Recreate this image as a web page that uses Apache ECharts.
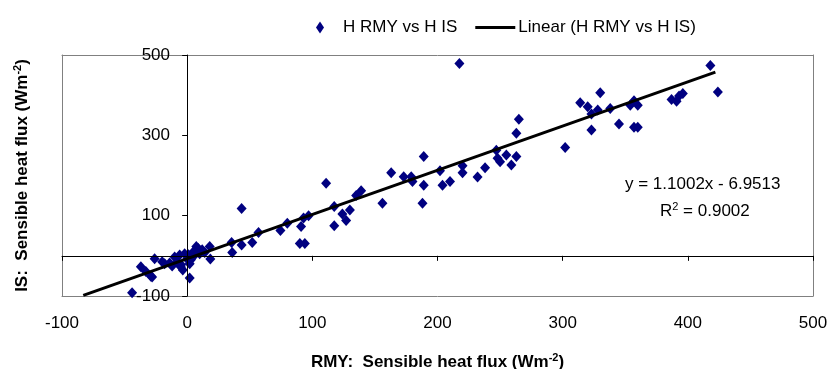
<!DOCTYPE html>
<html>
<head>
<meta charset="utf-8">
<script src="https://cdn.jsdelivr.net/npm/echarts@6/dist/echarts.min.js"></script>
<style>html,body{margin:0;padding:0;background:#fff}#c{width:830px;height:369px}</style>
</head>
<body>
<div id="c"></div>
<script>
// Data
const rmyX = [-44,-37,-33,-29,-28,-26,-20,-18,-14,-12,-10,-8,-7.5,-6,-5,-4.8,-3.5,-2,0,1,2,2,3,4.6,5,6,7.3,8.6,10,12,14,18,18.5,
  35.5,36,43.5,43.5,52,57,74.5,80,90,94,91,93,97,111,117.5,117.5,124,127,130,135,139,156,163,173,179,180,188,189,189,202,204,210,217.5,220,220,232,238,247,248,250,255,259,263,263,265,302,314,320,323,323,328,330,338,345,354,357,360,357,360,387,391,393,396,418,424];
const isY = [-92,-27,-39,-51,-53,-7,-15,-20,-18,-25,-3,-15,-18,2,-28,-22,-35,5,-8,3,-55,-20,-10,7,10,2,23,19,5,15,8,23,-8,
  33,8,27,118,33,58,63,81,31,31,73,94,100,181,123,75,104,88,114,150,162,131,207,197,197,185,131,176,247,212,176,185,479,207,224,196,219,263,243,234,251,226,247,305,340,270,381,371,353,313,363,406,367,328,375,386,375,320,320,389,385,398,404,474,408];
// Linear trend line endpoints (y = 1.1002x - 6.9513)
const trendX = [-83, 422];
const trendY = [-98.3, 457.3];
const xTickMin = -100, xTickMax = 500, xTickStep = 100;
const yTickMin = -100, yTickMax = 500, yTickStep = 200;
const equationText = 'y = 1.1002x - 6.9513';
const r2Text = '0.9002';

const scatterData = rmyX.map((x, i) => [x, isY[i]]);
const trendData = trendX.map((x, i) => [x, trendY[i]]);
const FONT = 'Liberation Sans, Arial, sans-serif';
const FS = 17;
const BORDER = '#808080';
const frameAxis = (extra) => Object.assign({
  type: 'value', axisTick: {show: false}, axisLabel: {show: false}, splitLine: {show: false},
  axisLine: {show: true, onZero: false, lineStyle: {color: BORDER, width: 1}}
}, extra);

const chart = echarts.init(document.getElementById('c'), null, {renderer: 'canvas'});
chart.setOption({
  animation: false,
  textStyle: {fontFamily: FONT, color: '#000'},
  legend: {
    left: 311, top: 14,
    itemWidth: 40, itemHeight: 12, itemGap: 18,
    textStyle: {fontSize: FS, color: '#000', fontFamily: FONT, padding: [0,0,0,-2]},
    data: [
      {name: 'H RMY vs H IS', icon: 'path://M4,0L8,6L4,12L0,6Z'},
      {name: 'Linear (H RMY vs H IS)', icon: 'path://M0,0H40V3H0Z', itemStyle: {color: '#000'}}
    ]
  },
  grid: {left: 62, right: 17, top: 55, bottom: 73, show: false,
         containLabel: false, outerBoundsMode: 'none'},
  xAxis: [
    {type: 'value', min: xTickMin, max: xTickMax, interval: xTickStep, position: 'bottom',
     axisLine: {show: true, onZero: true, lineStyle: {color: '#000', width: 1}},
     axisTick: {show: true, inside: false, length: 5, lineStyle: {color: '#000'}},
     axisLabel: {show: false}, splitLine: {show: false}, z: 5},
    {type: 'value', min: xTickMin, max: xTickMax, interval: xTickStep, position: 'bottom',
     axisLine: {show: true, onZero: false, lineStyle: {color: BORDER, width: 1}}, axisTick: {show: false}, splitLine: {show: false},
     axisLabel: {show: true, fontSize: FS, color: '#000', margin: 19, fontFamily: FONT},
     name: 'RMY:  Sensible heat flux (Wm{sup|-2})', nameLocation: 'middle', nameGap: 56,
     nameTextStyle: {fontSize: FS, fontWeight: 'bold', color: '#000', fontFamily: FONT, lineHeight: 20,
       rich: {sup: {fontSize: 11, fontWeight: 'bold', lineHeight: 11, verticalAlign: 'top', fontFamily: FONT}}}},
    frameAxis({min: xTickMin, max: xTickMax, position: 'top'})
  ],
  yAxis: [
    {type: 'value', min: yTickMin, max: yTickMax, interval: yTickStep, position: 'left',
     axisLine: {show: true, onZero: true, lineStyle: {color: '#000', width: 1}},
     axisTick: {show: true, inside: false, length: 5, lineStyle: {color: '#000'}},
     axisLabel: {show: true, fontSize: FS, color: '#000', margin: -108, fontFamily: FONT},
     splitLine: {show: false}, z: 5,
     name: 'IS:  Sensible heat flux (Wm{sup|-2})', nameLocation: 'middle', nameRotate: 90, nameGap: 30,
     nameTextStyle: {fontSize: FS, fontWeight: 'bold', color: '#000', fontFamily: FONT, lineHeight: 20,
       rich: {sup: {fontSize: 11, fontWeight: 'bold', lineHeight: 11, verticalAlign: 'top', fontFamily: FONT}}}},
    frameAxis({min: yTickMin, max: yTickMax, position: 'left'}),
    frameAxis({min: yTickMin, max: yTickMax, position: 'right'})
  ],
  series: [
    {name: 'H RMY vs H IS', type: 'scatter', xAxisIndex: 0, yAxisIndex: 0,
     symbol: 'diamond', symbolSize: [10, 11], itemStyle: {color: '#000080', opacity: 1},
     data: scatterData, z: 3},
    {name: 'Linear (H RMY vs H IS)', type: 'line', xAxisIndex: 0, yAxisIndex: 0,
     symbol: 'none', showSymbol: false, lineStyle: {color: '#000', width: 3}, itemStyle: {color: '#000'},
     data: trendData, z: 4}
  ],
  graphic: [
    {type: 'text', left: 625, top: 176, style: {text: equationText, fontSize: FS, fontFamily: FONT, fill: '#000'}},
    {type: 'text', left: 660, top: 201, style: {text: 'R{sup|2} = ' + r2Text, fontSize: FS, fontFamily: FONT, fill: '#000', lineHeight: 20,
       rich: {sup: {fontSize: 11, lineHeight: 11, verticalAlign: 'top', fontFamily: FONT, fill: '#000'}}}}
  ]
});
</script>
</body>
</html>
